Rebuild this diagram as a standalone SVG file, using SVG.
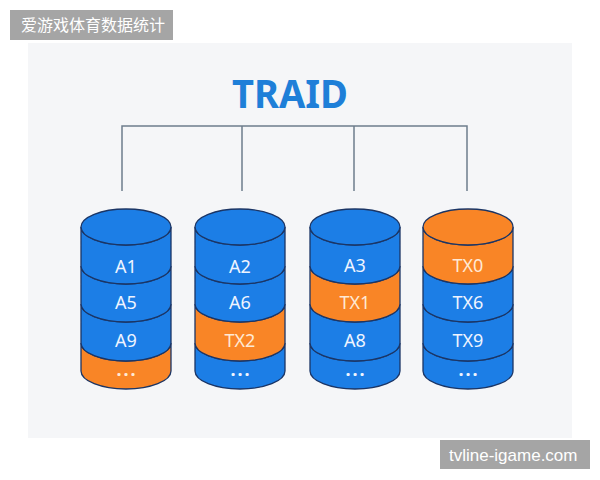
<svg xmlns="http://www.w3.org/2000/svg" width="600" height="480" viewBox="0 0 600 480">
<style>
.bg{fill:#ffffff}
.panel{fill:#f5f6f8}
.wm{fill:#a5a5a5}
.wmt{fill:#ffffff;font-family:"Noto Sans CJK SC","Noto Sans","Liberation Sans",sans-serif;font-size:16px}
.wmt2{fill:#ffffff;font-family:"Liberation Sans","Noto Sans",sans-serif;font-size:17px}
.title{fill:#1e7fd8;font-family:"Noto Sans","Open Sans","Liberation Sans",sans-serif;font-size:40px;font-weight:bold}
.conn{stroke:#6e7d8c;stroke-width:1.5;fill:none}
.b{fill:#1c7ee6;stroke:#1b3565;stroke-width:1.3}
.o{fill:#f98526;stroke:#1b3565;stroke-width:1.3}
.lb{fill:#eef4ff;font-family:"Noto Sans","Open Sans","Liberation Sans",sans-serif;font-size:18px;text-anchor:middle}
.lo{fill:#ffe9d4;font-family:"Noto Sans","Open Sans","Liberation Sans",sans-serif;font-size:18px;text-anchor:middle}
.d{font-weight:bold;letter-spacing:2px}
</style>
<defs>
<ellipse id="cap" cx="0" cy="227" rx="45" ry="18"/>
<path id="band1" d="M-45,227 L-45,266 A45,18 0 0 0 45,266 L45,227 A45,18 0 0 1 -45,227 Z"/>
<path id="band2" d="M-45,266 L-45,304 A45,18 0 0 0 45,304 L45,266 A45,18 0 0 1 -45,266 Z"/>
<path id="band3" d="M-45,304 L-45,343 A45,18 0 0 0 45,343 L45,304 A45,18 0 0 1 -45,304 Z"/>
<path id="band4" d="M-45,343 L-45,371 A45,18 0 0 0 45,371 L45,343 A45,18 0 0 1 -45,343 Z"/>
</defs>
<rect class="bg" x="0" y="0" width="600" height="480"/>
<rect class="panel" x="28" y="43" width="544" height="395"/>

<g id="title">
<text class="title" x="290" y="108" text-anchor="middle" textLength="116" lengthAdjust="spacingAndGlyphs">TRAID</text>
</g>

<g id="connectors">
<path class="conn" d="M122,191 V126 H467 V191 M242,126 V191 M354,126 V191"/>
</g>

<g id="disk1">
<use href="#band4" class="o" x="126"/>
<use href="#band3" class="b" x="126"/>
<use href="#band2" class="b" x="126"/>
<use href="#band1" class="b" x="126"/>
<use href="#cap" class="b" x="126"/>
<text class="lb" x="126" y="273">A1</text>
<text class="lb" x="126" y="309">A5</text>
<text class="lb" x="126" y="347">A9</text>
<text class="lo d" x="127" y="376">...</text>
</g>

<g id="disk2">
<use href="#band4" class="b" x="240"/>
<use href="#band3" class="o" x="240"/>
<use href="#band2" class="b" x="240"/>
<use href="#band1" class="b" x="240"/>
<use href="#cap" class="b" x="240"/>
<text class="lb" x="240" y="273">A2</text>
<text class="lb" x="240" y="309">A6</text>
<text class="lo" x="240" y="347">TX2</text>
<text class="lb d" x="241" y="376">...</text>
</g>

<g id="disk3">
<use href="#band4" class="b" x="355"/>
<use href="#band3" class="b" x="355"/>
<use href="#band2" class="o" x="355"/>
<use href="#band1" class="b" x="355"/>
<use href="#cap" class="b" x="355"/>
<text class="lb" x="355" y="272">A3</text>
<text class="lo" x="355" y="309">TX1</text>
<text class="lb" x="355" y="347">A8</text>
<text class="lb d" x="356" y="376">...</text>
</g>

<g id="disk4">
<use href="#band4" class="b" x="468"/>
<use href="#band3" class="b" x="468"/>
<use href="#band2" class="b" x="468"/>
<use href="#band1" class="o" x="468"/>
<use href="#cap" class="o" x="468"/>
<text class="lo" x="468" y="272">TX0</text>
<text class="lb" x="468" y="309">TX6</text>
<text class="lb" x="468" y="347">TX9</text>
<text class="lb d" x="469" y="376">...</text>
</g>

<g id="watermark-top">
<rect class="wm" x="10" y="10" width="163" height="30"/>
<text class="wmt" x="21" y="31">爱游戏体育数据统计</text>
</g>
<g id="watermark-bottom">
<rect class="wm" x="440" y="440" width="150" height="29"/>
<text class="wmt2" x="449" y="461">tvline-igame.com</text>
</g>
</svg>
